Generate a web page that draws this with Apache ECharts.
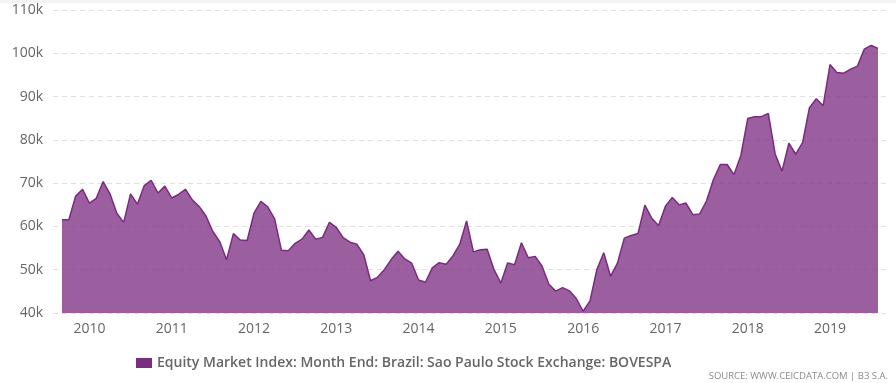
<!DOCTYPE html>
<html>
<head>
<meta charset="utf-8">
<script src="https://cdn.jsdelivr.net/npm/echarts@6/dist/echarts.min.js"></script>
<style>
html,body{margin:0;padding:0;background:#fff;}
#c{width:896px;height:383px;}
</style>
</head>
<body>
<div id="c"></div>
<script>
// Monthly, Sep 2009 .. Aug 2019
var startYear = 2009, startMonth = 9;
var values = [
  61518, 61546, 67044, 68588,
  65402, 66503, 70372, 67530, 63047, 60936, 67515, 65145, 69430, 70673, 67705, 69305,
  66575, 67384, 68587, 66133, 64620, 62404, 58823, 56495, 52324, 58338, 56875, 56754,
  63072, 65812, 64511, 61820, 54490, 54355, 56097, 57061, 59175, 57068, 57475, 60952,
  59761, 57424, 56352, 55910, 53506, 47457, 48234, 50008, 52338, 54256, 52482, 51507,
  47639, 47094, 50415, 51627, 51239, 53168, 55829, 61288, 54116, 54629, 54724, 50007,
  46908, 51583, 51150, 56229, 52760, 53081, 50865, 46626, 45059, 45869, 45120, 43350,
  40406, 42793, 50055, 53910, 48471, 51527, 57308, 57901, 58367, 64925, 61906, 60227,
  64671, 66662, 64984, 65403, 62711, 62900, 65920, 70835, 74294, 74308, 71971, 76402,
  84913, 85354, 85366, 86115, 76754, 72763, 79220, 76678, 79342, 87424, 89504, 87887,
  97394, 95584, 95415, 96353, 97030, 100967, 101812, 101135
];
var yearLabels = ['2010','2011','2012','2013','2014','2015','2016','2017','2018','2019'];
var yTicks = [40000, 50000, 60000, 70000, 80000, 90000, 100000, 110000];
var seriesName = 'Equity Market Index: Month End: Brazil: Sao Paulo Stock Exchange: BOVESPA';
var sourceText = 'SOURCE: WWW.CEICDATA.COM | B3 S.A.';

var data = values.map(function(v, i){ return [i, v]; });
var yearIdx = yearLabels.map(function(y){ return (parseInt(y,10) - startYear) * 12 + (1 - startMonth); });
var labelMap = {};
yearIdx.forEach(function(ix, k){ labelMap[ix] = yearLabels[k]; });

var chart = echarts.init(document.getElementById('c'));
chart.setOption({
  animation: false,
  backgroundColor: '#fff',
  grid: { left: 53, right: 9, top: 10, bottom: 70, containLabel: false },
  graphic: [
    { type: 'rect', shape: { x: 0, y: 0, width: 896, height: 3 }, style: { fill: '#f3f3f3' }, silent: true },
    { type: 'text', right: 8, top: 371, style: { text: sourceText, fill: '#8a8a8a', font: '9.5px "Open Sans", sans-serif' } }
  ],
  legend: {
    top: 351, left: 131,
    itemWidth: 16, itemHeight: 10, itemGap: 5,
    icon: 'rect',
    textStyle: { color: '#666', fontSize: 14, fontWeight: 600, fontFamily: '"Open Sans", sans-serif', padding: [0,0,0,0] },
    data: [{ name: seriesName, itemStyle: { color: '#7b2d82', opacity: 1 } }]
  },
  xAxis: {
    type: 'value',
    min: -1.31, max: values.length - 1 + 1.31,
    splitLine: { show: false },
    axisLine: { show: false },
    axisTick: { show: false },
    axisLabel: {
      customValues: yearIdx,
      formatter: function(v){ return labelMap[Math.round(v)] || ''; },
      color: '#666', fontSize: 14, fontFamily: '"Open Sans", sans-serif', margin: 9
    }
  },
  yAxis: {
    type: 'value',
    min: 40000, max: 110000, interval: 10000,
    axisLine: { show: false },
    axisTick: { show: false },
    splitLine: { lineStyle: { color: '#e0e0e0', type: [5, 4], width: 1 } },
    axisLabel: {
      formatter: function(v){ return (v/1000) + 'k'; },
      color: '#666', fontSize: 14, fontFamily: '"Open Sans", sans-serif', margin: 10
    }
  },
  series: [{
    name: seriesName,
    type: 'line',
    data: data,
    symbol: 'none',
    z: 3,
    lineStyle: { color: '#7b2a80', width: 1.5 },
    itemStyle: { color: '#7b2d82' },
    areaStyle: { color: '#7b2d82', opacity: 0.76 }
  }]
});
</script>
</body>
</html>
